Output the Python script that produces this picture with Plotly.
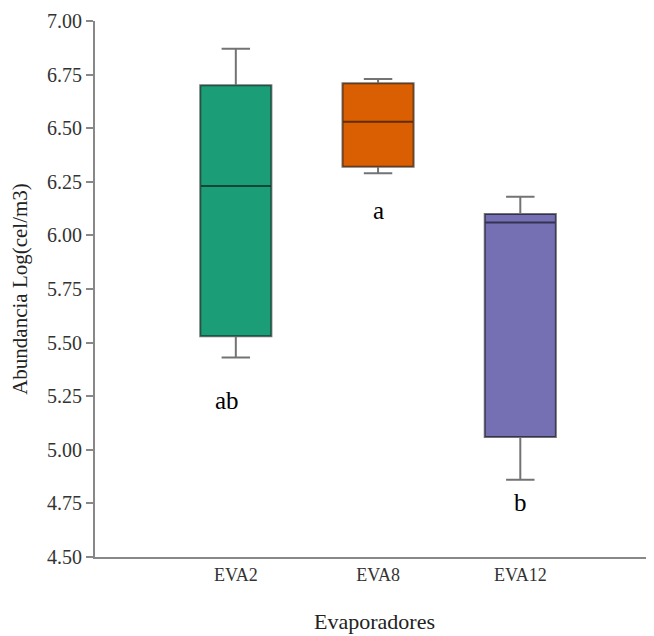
import plotly.graph_objects as go

categories = ["EVA2", "EVA8", "EVA12"]
q1 = [5.53, 6.32, 5.06]
median = [6.23, 6.53, 6.06]
q3 = [6.70, 6.71, 6.10]
lower = [5.43, 6.29, 4.86]
upper = [6.87, 6.73, 6.18]
colors = ["#1b9e77", "#d95f02", "#7570b3"]
letters = ["ab", "a", "b"]
letter_x = [-0.06, 0.0, 0.0]
letter_y = [5.232, 6.114, 4.752]
y_ticks = [4.50, 4.75, 5.00, 5.25, 5.50, 5.75, 6.00, 6.25, 6.50, 6.75, 7.00]

FAM = "Liberation Serif, Times New Roman, serif"

fig = go.Figure()
for i, c in enumerate(categories):
    fig.add_trace(go.Box(
        x=[c], q1=[q1[i]], median=[median[i]], q3=[q3[i]],
        lowerfence=[lower[i]], upperfence=[upper[i]],
        fillcolor=colors[i], line=dict(color="rgba(0,0,0,0.55)", width=2),
        width=0.5, whiskerwidth=0.4, boxpoints=False, showlegend=False,
        hoverinfo="skip",
    ))

for i in range(len(categories)):
    fig.add_annotation(x=i + letter_x[i], y=letter_y[i], text=letters[i],
                       showarrow=False, xref="x", yref="y",
                       font=dict(size=25, color="black", family=FAM))

fig.update_layout(
    width=646, height=628,
    margin=dict(l=87, r=0, t=13, b=79),
    paper_bgcolor="white", plot_bgcolor="white",
    boxmode="overlay",
    font=dict(family=FAM, color="#222", size=18),
    xaxis=dict(
        type="category", range=[-0.99, 2.94],
        showline=True, linecolor="#888", linewidth=2,
        showgrid=False, zeroline=False, ticks="",
        tickfont=dict(family=FAM, size=18, color="#333"),
        title=dict(text="Evaporadores", standoff=30,
                   font=dict(family=FAM, size=22, color="#222")),
    ),
    yaxis=dict(
        range=[4.5, 7.0], tickvals=y_ticks,
        ticktext=[f"{v:.2f}" for v in y_ticks],
        showline=True, linecolor="#888", linewidth=2,
        ticks="outside", ticklen=7, tickcolor="#888", tickwidth=2,
        showgrid=False, zeroline=False,
        tickfont=dict(family=FAM, size=20, color="#333"),
        title=dict(text="Abundancia Log(cel/m3)", standoff=14,
                   font=dict(family=FAM, size=21, color="#222")),
    ),
)

fig.write_html("out.html")
